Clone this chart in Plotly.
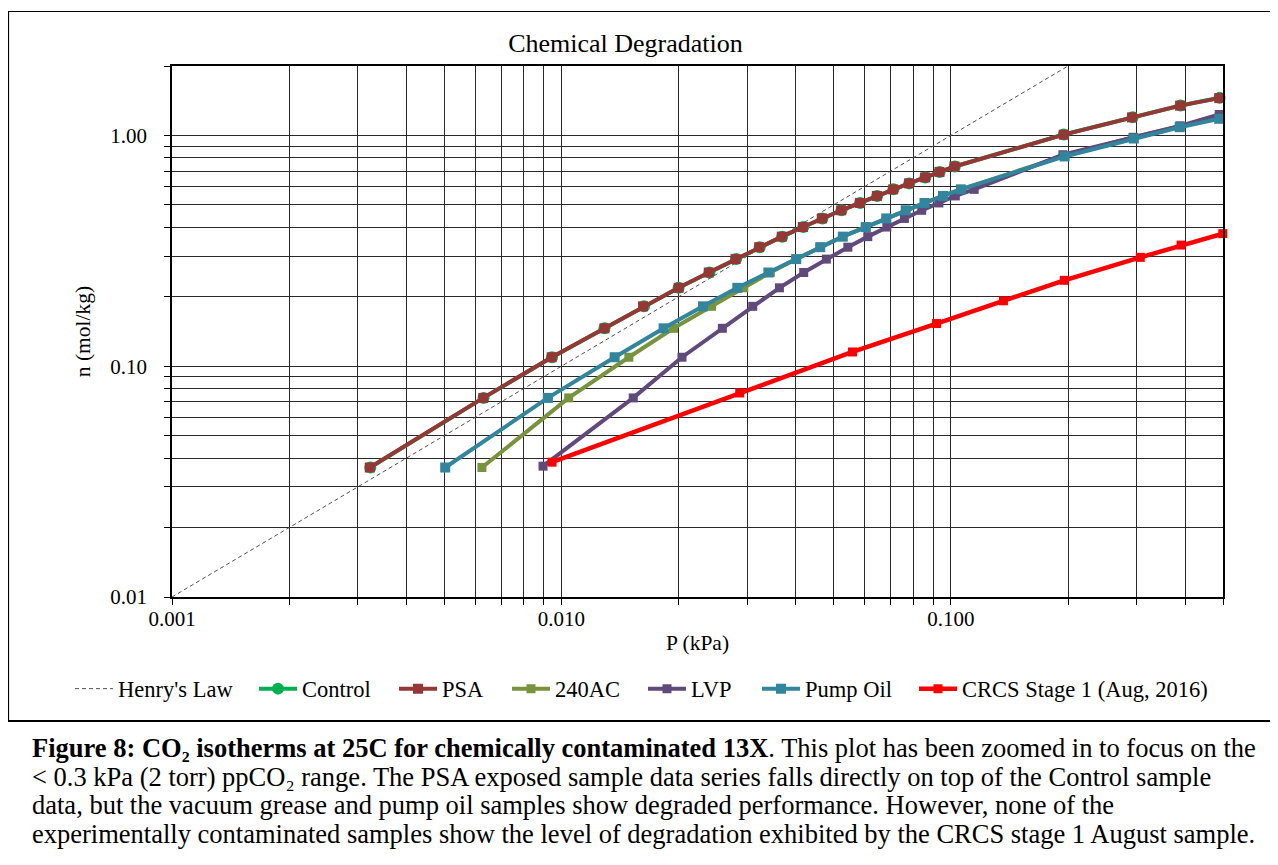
import plotly.graph_objects as go

# ---------------- data ----------------
henry_p = [0.001, 0.2]
henry_n = [0.01, 2.0]

control_p = [0.00323, 0.00631, 0.00946, 0.0129, 0.0163, 0.0200, 0.0240, 0.0281, 0.0323, 0.0369,
             0.0418, 0.0468, 0.0524, 0.0585, 0.0647, 0.0712, 0.0782, 0.0860, 0.0936, 0.1024,
             0.195, 0.293, 0.389, 0.490]
control_n = [0.0364, 0.0729, 0.1094, 0.1460, 0.1818, 0.2187, 0.2548, 0.2912, 0.3280, 0.3644,
             0.4010, 0.4370, 0.4740, 0.5100, 0.5470, 0.5840, 0.6200, 0.6580, 0.6950, 0.7340,
             1.010, 1.200, 1.349, 1.456]

psa_p = [0.00322, 0.00630, 0.00944, 0.0129, 0.0162, 0.0200, 0.0239, 0.0280, 0.0322, 0.0368,
         0.0417, 0.0467, 0.0523, 0.0584, 0.0646, 0.0711, 0.0781, 0.0859, 0.0935, 0.1022,
         0.195, 0.292, 0.388, 0.489]
psa_n = [0.0364, 0.0729, 0.1094, 0.1460, 0.1818, 0.2187, 0.2548, 0.2912, 0.3280, 0.3644,
         0.4010, 0.4370, 0.4740, 0.5100, 0.5470, 0.5840, 0.6200, 0.6580, 0.6950, 0.7340,
         1.008, 1.198, 1.347, 1.452]

ac240_p = [0.00625, 0.01044, 0.0149, 0.0194, 0.0243, 0.0294, 0.0344, 0.0400, 0.0462, 0.0527,
           0.0603, 0.0682, 0.0765, 0.0855, 0.0953, 0.1060, 0.196, 0.294, 0.387, 0.489]
ac240_n = [0.0364, 0.0729, 0.1094, 0.1460, 0.1818, 0.2187, 0.2548, 0.2912, 0.3280, 0.3644,
           0.4010, 0.4370, 0.4740, 0.5100, 0.5470, 0.5840, 0.818, 0.983, 1.098, 1.205]

lvp_p = [0.00897, 0.01529, 0.0204, 0.0259, 0.0310, 0.0363, 0.0419, 0.0479, 0.0544, 0.0612,
         0.0685, 0.0760, 0.0842, 0.0932, 0.1027, 0.1148, 0.194, 0.294, 0.388, 0.489]
lvp_n = [0.0369, 0.0729, 0.1094, 0.1460, 0.1818, 0.2187, 0.2548, 0.2912, 0.3280, 0.3644,
         0.4010, 0.4370, 0.4740, 0.5100, 0.5470, 0.5840, 0.825, 0.980, 1.100, 1.233]

pump_p = [0.00503, 0.00923, 0.0137, 0.0183, 0.0231, 0.0283, 0.0340, 0.0401, 0.0462, 0.0528,
          0.0605, 0.0683, 0.0766, 0.0856, 0.0955, 0.1061, 0.196, 0.295, 0.387, 0.489]
pump_n = [0.0364, 0.0729, 0.1094, 0.1460, 0.1818, 0.2187, 0.2548, 0.2912, 0.3280, 0.3644,
          0.4010, 0.4370, 0.4740, 0.5100, 0.5470, 0.5840, 0.811, 0.970, 1.086, 1.181]

crcs_p = [0.00946, 0.0287, 0.0559, 0.0919, 0.1365, 0.1956, 0.3066, 0.3902, 0.4994]
crcs_n = [0.0384, 0.0766, 0.1153, 0.1531, 0.1921, 0.2357, 0.2964, 0.3350, 0.3754]

x_grid = [0.001, 0.002, 0.003, 0.004, 0.005, 0.006, 0.007, 0.008, 0.009,
          0.01, 0.02, 0.03, 0.04, 0.05, 0.06, 0.07, 0.08, 0.09,
          0.1, 0.2, 0.3, 0.4, 0.5]
x_labels = {0.001: "0.001", 0.01: "0.010", 0.1: "0.100"}
y_grid = [0.01, 0.02, 0.03, 0.04, 0.05, 0.06, 0.07, 0.08, 0.09,
          0.1, 0.2, 0.3, 0.4, 0.5, 0.6, 0.7, 0.8, 0.9, 1.0, 2.0]
y_labels = {0.01: "0.01", 0.1: "0.10", 1.0: "1.00"}

title_text = "Chemical Degradation"
x_title = "P (kPa)"
y_title = "n (mol/kg)"
caption_lines = [
    "<b>Figure 8: CO\u2082 isotherms at 25C for chemically contaminated 13X</b>. "
    "This plot has been zoomed in to focus on the",
    "&lt; 0.3 kPa (2 torr) ppCO\u2082 range. The PSA exposed sample data series falls "
    "directly on top of the Control sample",
    "data, but the vacuum grease and pump oil samples show degraded performance. However, none of the",
    "experimentally contaminated samples show the level of degradation exhibited by the CRCS stage 1 August sample.",
]

# ---------------- layout geometry (page px; page has an 8px body margin) ----------------
OFF = 8
W, H = 1270, 857
ML, MR, MT, MB = 164, 55, 58, 268
PW = W - ML - MR
PH = H - MT - MB
PLOT_LEFT = ML + OFF
PLOT_BOTTOM = H - MB + OFF


def px_x(px):
    return (px - PLOT_LEFT) / PW


def px_y(py):
    return (PLOT_BOTTOM - py) / PH


FONT = "Liberation Serif, Times New Roman, serif"

fig = go.Figure()

legend_ids = ["legend", "legend2", "legend3", "legend4", "legend5", "legend6", "legend7"]
legend_sym_x = [75, 259, 399, 512, 648, 762, 919]

fig.add_trace(go.Scatter(
    x=henry_p, y=henry_n, mode="lines", name="Henry's Law", legend=legend_ids[0],
    line=dict(color="#505050", width=1, dash="4px,3px")))

series = [
    ("Control", control_p, control_n, "#00B050", "circle", 12, 4),
    ("PSA", psa_p, psa_n, "#953735", "square", 10, 4),
    ("240AC", ac240_p, ac240_n, "#77933C", "square", 9, 4),
    ("LVP", lvp_p, lvp_n, "#604A7B", "square", 9, 4),
    ("Pump Oil", pump_p, pump_n, "#31859C", "square", 10, 4),
    ("CRCS Stage 1 (Aug, 2016)", crcs_p, crcs_n, "#FF0000", "square", 9, 4.5),
]
for i, (name, xs, ys, col, sym, sz, lw) in enumerate(series):
    fig.add_trace(go.Scatter(
        x=xs, y=ys, mode="lines+markers", name=name, cliponaxis=False,
        legend=legend_ids[i + 1],
        line=dict(color=col, width=lw),
        marker=dict(color=col, symbol=sym, size=sz, line=dict(width=0))))

axis_common = dict(
    type="log", showgrid=True, gridcolor="#2a2a2a", gridwidth=1,
    showline=True, linecolor="black", linewidth=1.5, mirror=True,
    ticks="outside", ticklen=6, tickcolor="black", tickwidth=1,
    tickfont=dict(family=FONT, size=21, color="black"),
    zeroline=False, automargin=False,
)

fig.update_xaxes(
    **axis_common, range=[-3, -0.30103],
    tickmode="array", tickvals=x_grid,
    ticktext=[x_labels.get(v, "") for v in x_grid],
    ticklabelstandoff=-4,
    title=dict(text=x_title, font=dict(family=FONT, size=21.5, color="black"), standoff=5),
)
fig.update_yaxes(
    **axis_common, range=[-2, 0.30103],
    tickmode="array", tickvals=y_grid,
    ticktext=[y_labels.get(v, "") for v in y_grid],
    ticklabelstandoff=13,
    title=dict(text=y_title, font=dict(family=FONT, size=21.5, color="black"), standoff=14),
)

shapes = [
    dict(type="line", xref="paper", yref="paper", x0=px_x(8), x1=px_x(1290),
         y0=px_y(11.5), y1=px_y(11.5), line=dict(color="black", width=1.2)),
    dict(type="line", xref="paper", yref="paper", x0=px_x(8.5), x1=px_x(8.5),
         y0=px_y(11.5), y1=px_y(721), line=dict(color="black", width=1.2)),
    dict(type="line", xref="paper", yref="paper", x0=px_x(8), x1=px_x(1290),
         y0=px_y(721), y1=px_y(721), line=dict(color="black", width=2.2)),
]

annotations = []
cap_y = [748, 776.5, 805, 833.5]
for txt, yy in zip(caption_lines, cap_y):
    annotations.append(dict(
        text=txt, xref="paper", yref="paper", x=px_x(30), y=px_y(yy),
        xanchor="left", yanchor="middle", showarrow=False, align="left",
        font=dict(family=FONT, size=26.5, color="black")))

layout_legends = {}
for lid, sx in zip(legend_ids, legend_sym_x):
    layout_legends[lid] = dict(
        orientation="h", x=px_x(sx - 5), xanchor="left",
        y=px_y(689), yanchor="middle",
        font=dict(family=FONT, size=22.5, color="black"),
        bgcolor="rgba(0,0,0,0)", itemwidth=38, borderwidth=0)

fig.update_layout(
    width=W, height=H,
    margin=dict(l=ML, r=MR, t=MT, b=MB, autoexpand=False),
    paper_bgcolor="white", plot_bgcolor="white",
    font=dict(family=FONT, color="black"),
    title=dict(text=title_text, x=(625.5 - OFF) / W, xanchor="center", xref="container",
               y=1 - (43 - OFF) / H, yanchor="middle", yref="container",
               font=dict(family=FONT, size=26, color="black")),
    shapes=shapes,
    annotations=annotations,
    showlegend=True,
    **layout_legends,
)

fig.write_html("out.html")
